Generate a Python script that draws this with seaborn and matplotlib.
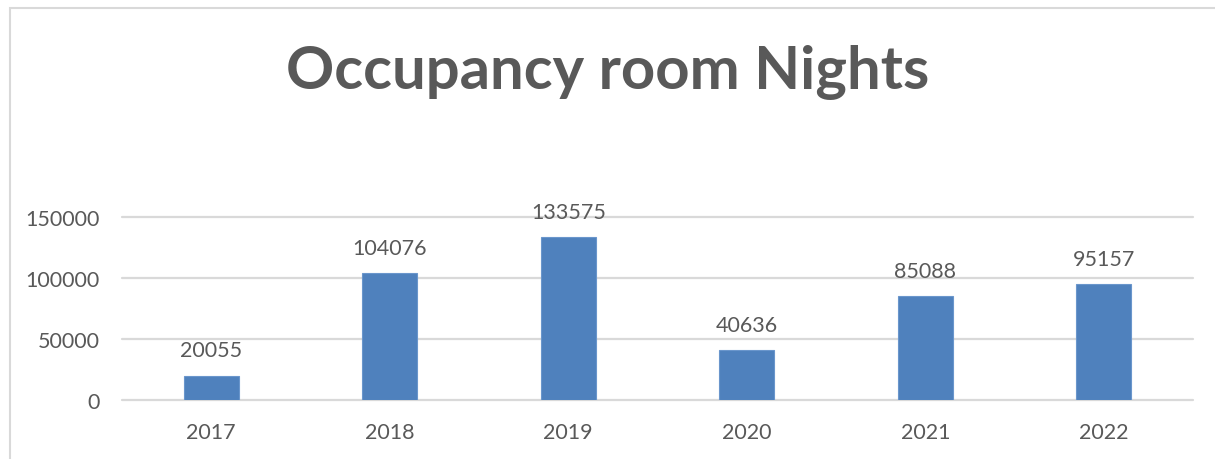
import pandas as pd
import matplotlib.pyplot as plt
import seaborn as sns
from matplotlib.patches import Rectangle

# data ---------------------------------
years = ["2017", "2018", "2019", "2020", "2021", "2022"]
room_nights = [20055, 104076, 133575, 40636, 85088, 95157]
yticks = [0, 50000, 100000, 150000]

df = pd.DataFrame({"Year": years, "Nights": room_nights})

sns.set_theme(style="white")
plt.rcParams['font.family'] = ['Lato', 'DejaVu Sans']

txt = '#595959'
grid = '#D9D9D9'
bar = '#4F81BD'

fig = plt.figure(figsize=(12.15, 4.6), dpi=100)
ax = fig.add_axes([122/1215, 1-401/460, (1193-122)/1215, (401-218)/460])

sns.barplot(data=df, x="Year", y="Nights", color=bar, width=0.31,
            edgecolor='#6A96CC', linewidth=0.8, saturation=1, ax=ax, zorder=3)

ax.set_ylim(0, 150000)
ax.set_xlim(-0.5, len(years)-0.5)
ax.set_yticks(yticks, [str(t) for t in yticks])
for t in yticks:
    ax.axhline(t, color=grid, lw=1.6, zorder=1, clip_on=False)
for s in ax.spines.values():
    s.set_visible(False)
ax.tick_params(axis='both', length=0, labelsize=15.5, labelcolor=txt)
ax.tick_params(axis='y', pad=16)
ax.tick_params(axis='x', pad=16)
ax.set_xlabel("")
ax.set_ylabel("")

# value labels
for i, v in enumerate(room_nights):
    ax.annotate(str(v), (i, v), xytext=(0, 11), textcoords='offset points',
                ha='center', va='bottom', fontsize=15.5, color=txt)

fig.text(0.5, 1-72/460, "Occupancy room Nights", ha='center', va='center',
         fontsize=43, fontweight='bold', color=txt)

# chart border (left + top visible)
fig.add_artist(Rectangle((10.5/1215, -0.1), 1.5, 1-8.5/460+0.1,
                         transform=fig.transFigure, fill=False,
                         edgecolor=grid, lw=1.5))

plt.savefig("out.png", dpi=100)
